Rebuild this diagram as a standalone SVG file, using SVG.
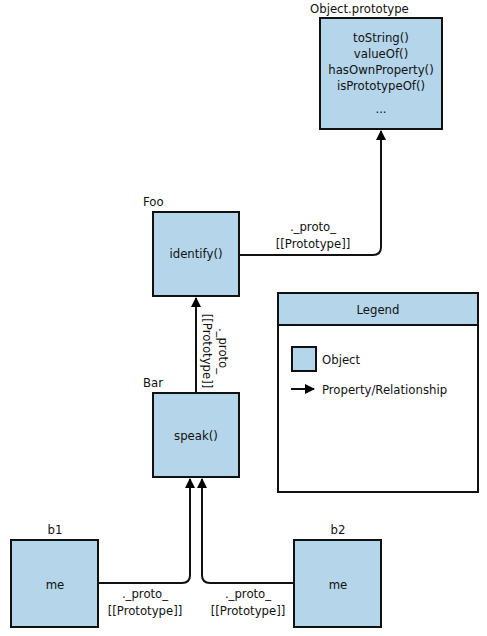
<svg xmlns="http://www.w3.org/2000/svg" width="487" height="636" viewBox="0 0 487 636">
<defs>
<marker id="ah" markerWidth="10" markerHeight="10" refX="9" refY="5" orient="auto" markerUnits="userSpaceOnUse">
<path d="M0,0 L10,5 L0,10 Z" fill="#000"/>
</marker>
<style>
.box{fill:#b4d5ea;stroke:#111;stroke-width:2}
.t{font-family:"DejaVu Sans Condensed","Liberation Sans",sans-serif;font-stretch:condensed;font-size:13px;fill:#111}
.m{text-anchor:middle}
.c{fill:none;stroke:#111;stroke-width:2}
</style>
</defs>
<rect width="487" height="636" fill="#fff"/>
<g id="objproto">
<rect class="box" x="320" y="18" width="122" height="111"/>
<text class="t" x="310" y="13">Object.prototype</text>
<text class="t m" x="381" y="42">toString()</text>
<text class="t m" x="381" y="58">valueOf()</text>
<text class="t m" x="381" y="74">hasOwnProperty()</text>
<text class="t m" x="381" y="90">isPrototypeOf()</text>
<text class="t m" x="381" y="113">...</text>
</g>
<g id="foo">
<rect class="box" x="153" y="212" width="86" height="84"/>
<text class="t" x="143" y="206">Foo</text>
<text class="t m" x="196" y="258">identify()</text>
</g>
<g id="bar">
<rect class="box" x="153" y="393" width="86" height="84"/>
<text class="t" x="143" y="387">Bar</text>
<text class="t m" x="196" y="440">speak()</text>
</g>
<g id="b1">
<rect class="box" x="11" y="540" width="87" height="87"/>
<text class="t m" x="55" y="534">b1</text>
<text class="t m" x="55" y="589">me</text>
</g>
<g id="b2">
<rect class="box" x="294" y="540" width="87" height="87"/>
<text class="t m" x="338" y="534">b2</text>
<text class="t m" x="338" y="589">me</text>
</g>
<g id="legend">
<rect x="278" y="293" width="200" height="199" fill="#fff" stroke="#111" stroke-width="2"/>
<rect x="278" y="293" width="200" height="32" fill="#b4d5ea" stroke="#111" stroke-width="2"/>
<text class="t m" x="378" y="314">Legend</text>
<rect class="box" x="292" y="347" width="24" height="24"/>
<text class="t" x="322" y="364">Object</text>
<line class="c" x1="291" y1="389" x2="314" y2="389" marker-end="url(#ah)"/>
<text class="t" x="322" y="394">Property/Relationship</text>
</g>
<g id="connectors">
<path class="c" d="M239,255 H373 Q381,255 381,247 V131" marker-end="url(#ah)"/>
<text class="t m" x="313" y="231">._proto_</text>
<text class="t m" x="313" y="248">[[Prototype]]</text>
<path class="c" d="M196,393 V298" marker-end="url(#ah)"/>
<text class="t m" transform="translate(203,351) rotate(90)">[[Prototype]]</text>
<text class="t m" transform="translate(219,351) rotate(90)">._proto_</text>
<path class="c" d="M98,583 H182 Q190,583 190,575 V479" marker-end="url(#ah)"/>
<text class="t m" x="145" y="598">._proto_</text>
<text class="t m" x="145" y="615">[[Prototype]]</text>
<path class="c" d="M294,583 H210 Q202,583 202,575 V479" marker-end="url(#ah)"/>
<text class="t m" x="248" y="598">._proto_</text>
<text class="t m" x="248" y="615">[[Prototype]]</text>
</g>
</svg>
